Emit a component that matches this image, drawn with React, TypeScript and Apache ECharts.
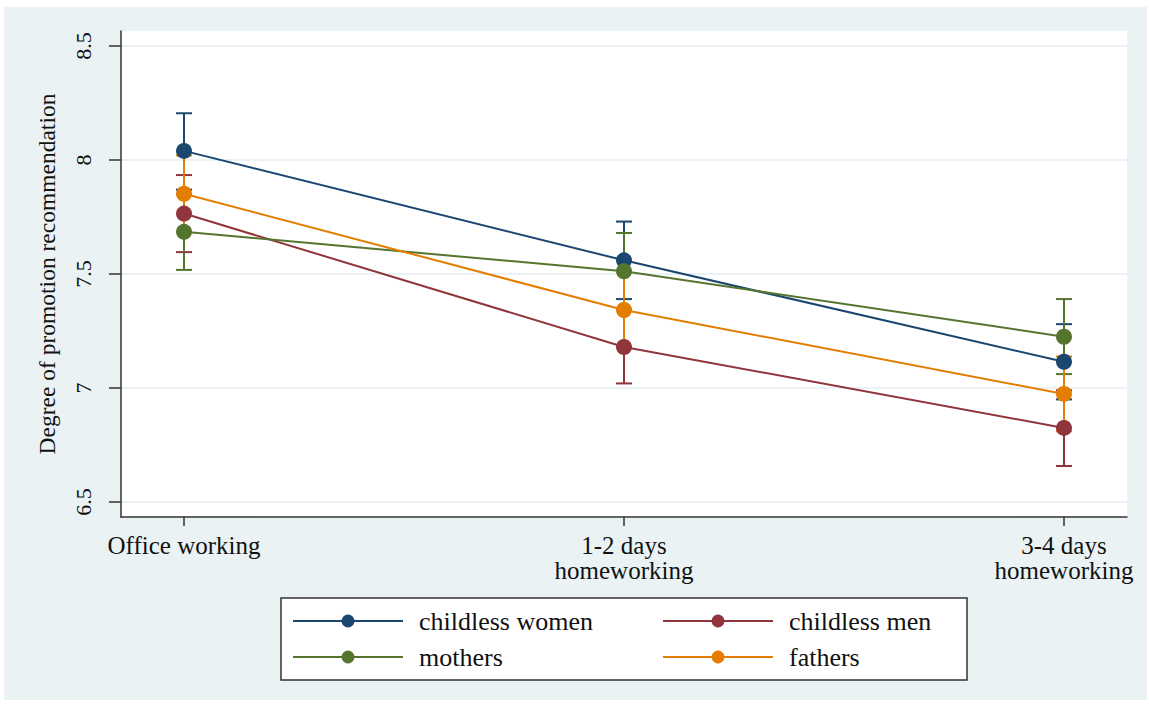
import React, { useEffect, useRef } from "react";
import * as echarts from "echarts";

const categories = ["Office working", "1-2 days\nhomeworking", "3-4 days\nhomeworking"];
const yTicks = [6.5, 7, 7.5, 8, 8.5];

const childlessWomen = [8.04, 7.56, 7.115];
const childlessWomenLo = [7.87, 7.39, 6.95];
const childlessWomenHi = [8.205, 7.73, 7.28];

const childlessMen = [7.765, 7.18, 6.825];
const childlessMenLo = [7.596, 7.02, 6.658];
const childlessMenHi = [7.934, 7.345, 6.99];

const mothers = [7.685, 7.512, 7.225];
const mothersLo = [7.518, 7.345, 7.061];
const mothersHi = [7.85, 7.68, 7.39];

const fathers = [7.852, 7.342, 6.974];
const fathersLo = [7.685, 7.177, 6.81];
const fathersHi = [8.02, 7.507, 7.138];

const seriesDefs = [
  { name: "childless women", values: childlessWomen, lo: childlessWomenLo, hi: childlessWomenHi, color: "#1a476f" },
  { name: "childless men", values: childlessMen, lo: childlessMenLo, hi: childlessMenHi, color: "#90353b" },
  { name: "mothers", values: mothers, lo: mothersLo, hi: mothersHi, color: "#55752f" },
  { name: "fathers", values: fathers, lo: fathersLo, hi: fathersHi, color: "#e37e00" },
];

const FONT = "'Liberation Serif', 'Times New Roman', serif";

export default function App() {
  const ref = useRef<HTMLDivElement>(null);
  useEffect(() => {
    if (!ref.current) return;
    const chart = echarts.init(ref.current, undefined, { renderer: "svg" });

    const errSeries = seriesDefs.map((s) => ({
      type: "custom",
      name: s.name + " CI",
      z: 2,
      silent: true,
      data: s.values.map((_, i) => [i, s.lo[i], s.hi[i]]),
      renderItem: (params: any, api: any) => {
        const x = api.value(0);
        const p1 = api.coord([x, api.value(1)]);
        const p2 = api.coord([x, api.value(2)]);
        const cw = 8;
        const style = { stroke: s.color, lineWidth: 2 };
        return {
          type: "group",
          children: [
            { type: "line", shape: { x1: p1[0], y1: p1[1], x2: p2[0], y2: p2[1] }, style },
            { type: "line", shape: { x1: p1[0] - cw, y1: p1[1], x2: p1[0] + cw, y2: p1[1] }, style },
            { type: "line", shape: { x1: p2[0] - cw, y1: p2[1], x2: p2[0] + cw, y2: p2[1] }, style },
          ],
        };
      },
    }));

    const lineSeries = seriesDefs.map((s) => ({
      type: "line",
      name: s.name,
      z: 3,
      data: s.values.map((v, i) => [i, v]),
      symbol: "circle",
      symbolSize: 16,
      itemStyle: { color: s.color },
      lineStyle: { color: s.color, width: 2 },
    }));

    const legendText = { fontFamily: FONT, fontSize: 26, color: "#111111", lineHeight: 26, padding: [0, 0, 0, 11] };

    chart.setOption({
      animation: false,
      backgroundColor: "#ffffff",
      graphic: [
        { type: "rect", z: -100, shape: { x: 4, y: 7, width: 1143, height: 693 }, style: { fill: "#eaf2f3" } },
        { type: "rect", z: -1, shape: { x: 281, y: 598, width: 686, height: 82 }, style: { fill: "#ffffff", stroke: "#333333", lineWidth: 1.5 } },
      ],
      grid: {
        left: 121,
        right: 22,
        top: 31,
        bottom: 188,
        show: true,
        backgroundColor: "#ffffff",
        borderWidth: 0,
      },
      xAxis: {
        type: "value",
        min: -0.1432,
        max: 2.1432,
        axisLine: { show: true, onZero: false, lineStyle: { color: "#333333", width: 1.5 } },
        axisTick: { show: true, length: 9, customValues: [0, 1, 2], lineStyle: { color: "#333333", width: 1.5 } },
        axisLabel: {
          customValues: [0, 1, 2],
          formatter: (v: number) => categories[Math.round(v)] ?? "",
          fontFamily: FONT,
          fontSize: 25,
          lineHeight: 25,
          color: "#111111",
          margin: 16,
        },
        splitLine: { show: false },
      },
      yAxis: {
        type: "value",
        min: 6.4342,
        max: 8.5658,
        name: "Degree of promotion recommendation",
        nameLocation: "middle",
        nameRotate: 90,
        nameGap: 62,
        nameTextStyle: { fontFamily: FONT, fontSize: 23.5, color: "#111111" },
        axisLine: { show: true, onZero: false, lineStyle: { color: "#333333", width: 1.5 } },
        axisTick: { show: true, length: 12, customValues: yTicks, lineStyle: { color: "#333333", width: 1.5 } },
        axisLabel: {
          customValues: yTicks,
          rotate: 90,
          fontFamily: FONT,
          fontSize: 22,
          color: "#111111",
          margin: 27,
          formatter: (v: number) => String(v),
        },
        splitLine: { show: true, lineStyle: { color: "#eaf2f3", width: 2 } },
      },
      legend: [
        {
          data: ["childless women", "mothers"],
          orient: "vertical",
          left: 287,
          top: 603,
          itemWidth: 110,
          itemHeight: 16,
          itemGap: 10,
          textStyle: legendText,
        },
        {
          data: ["childless men", "fathers"],
          orient: "vertical",
          left: 657,
          top: 603,
          itemWidth: 110,
          itemHeight: 16,
          itemGap: 10,
          textStyle: legendText,
        },
      ],
      series: [...errSeries, ...lineSeries],
    });

    return () => chart.dispose();
  }, []);

  return (
    <div
      ref={ref}
      style={{ position: "fixed", left: 0, top: 0, width: 1149, height: 705 }}
    />
  );
}
